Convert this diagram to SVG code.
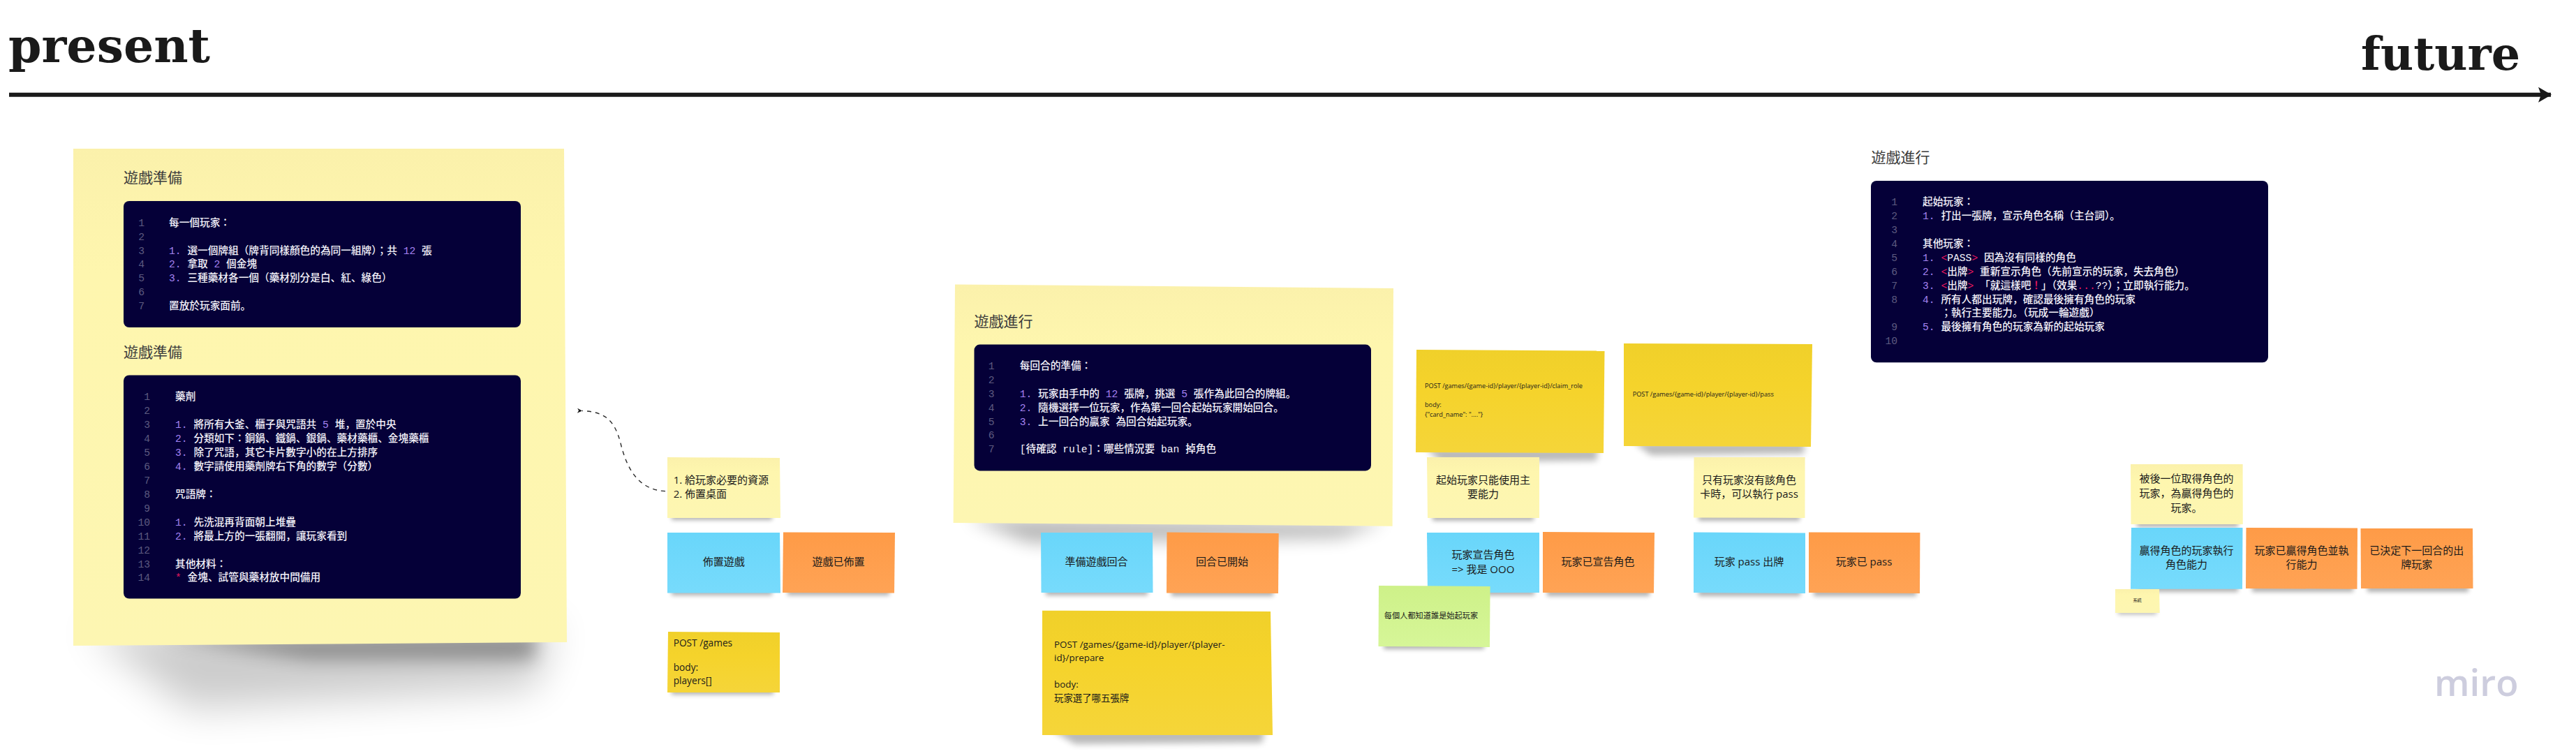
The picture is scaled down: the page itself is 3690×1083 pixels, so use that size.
<svg xmlns="http://www.w3.org/2000/svg" width="3690" height="1083" viewBox="0 0 3690 1083">
<style>
text{font-family:"Open Sans","Noto Sans CJK JP",sans-serif;fill:#1a1a1a}
.title{font-family:"DejaVu Serif",serif;font-weight:700;font-size:68px;fill:#1a1a1a}
.h{font-family:"Roboto","Noto Sans CJK JP",sans-serif;font-size:21px;fill:#3c3c3c}
.box{fill:#050038}
.ln{font-family:"Liberation Mono","Noto Sans CJK JP",monospace;font-size:14.67px;fill:#5e5b80;text-anchor:end}
.c{font-family:"Liberation Mono","Noto Sans CJK JP",monospace;font-size:14.67px;font-weight:500;fill:#f4f3fa}
.p{fill:#a583f2}
.r{fill:#e8185f}
.t{font-size:15px;text-anchor:middle}
.l{font-size:15px}
.y{fill:url(#gy)}.b{fill:url(#gb)}.o{fill:url(#go)}.g{fill:url(#gg)}.v{fill:url(#gv)}
.s{fill:#000;opacity:.3;filter:url(#b4)}
.s2{fill:#000;opacity:.27;filter:url(#b6)}
</style>
<defs>
<filter id="b4" x="-30%" y="-200%" width="160%" height="500%"><feGaussianBlur stdDeviation="3.2"/></filter>
<filter id="b6" x="-30%" y="-200%" width="160%" height="500%"><feGaussianBlur stdDeviation="5"/></filter>
<filter id="b10" x="-30%" y="-100%" width="160%" height="300%"><feGaussianBlur stdDeviation="12"/></filter>
<filter id="b24" x="-30%" y="-100%" width="160%" height="300%"><feGaussianBlur stdDeviation="28"/></filter>
<linearGradient id="gy" x1="0" y1="0" x2="0" y2="1"><stop offset="0" stop-color="#FBF1AB"/><stop offset=".25" stop-color="#FEF6AE"/><stop offset="1" stop-color="#FDF6B2"/></linearGradient>
<linearGradient id="gb" x1="0" y1="0" x2="0" y2="1"><stop offset="0" stop-color="#69D6FA"/><stop offset="1" stop-color="#77DBFC"/></linearGradient>
<linearGradient id="go" x1="0" y1="0" x2="0" y2="1"><stop offset="0" stop-color="#FE9B47"/><stop offset="1" stop-color="#FFA355"/></linearGradient>
<linearGradient id="gg" x1="0" y1="0" x2="0" y2="1"><stop offset="0" stop-color="#F0D02A"/><stop offset=".4" stop-color="#F5D32B"/><stop offset="1" stop-color="#F5D539"/></linearGradient>
<linearGradient id="gv" x1="0" y1="0" x2="0" y2="1"><stop offset="0" stop-color="#CEF189"/><stop offset="1" stop-color="#D6F698"/></linearGradient>
<marker id="ah" markerWidth="10" markerHeight="10" refX="1" refY="5" orient="auto-start-reverse" markerUnits="userSpaceOnUse"><path d="M8 1.5 L1 5 L8 8.5 L6 5 Z" fill="#1a1a1a"/></marker>
<marker id="big" markerWidth="22" markerHeight="24" refX="19" refY="12" orient="auto" markerUnits="userSpaceOnUse"><path d="M1 1 L20 12 L1 23 L5 12 Z" fill="#1a1a1a"/></marker>
</defs>
<rect width="3690" height="1083" fill="#fff"/>

<g id="timeline">
<text class="title" x="12" y="88.5">present</text>
<text class="title" x="3382" y="100" style="font-size:65px">future</text>
</g>

<g id="connectors">
<path d="M13 135.7H3654" fill="none" stroke="#1a1a1a" stroke-width="6" marker-end="url(#big)"/>
<path d="M953 703.6C915 702 898 672 889 635C880 600 865 590 834 588.5" fill="none" stroke="#2a2a2a" stroke-width="1.4" stroke-dasharray="6 6" marker-end="url(#ah)"/>
</g>

<g id="setup-note">
<polygon points="125,900 795,895 765,985 270,1015" fill="#000" opacity=".2" filter="url(#b24)"/>
<polygon points="230,915 770,905 765,945 440,945" fill="#000" opacity=".3" filter="url(#b10)"/>
<polygon class="y" points="105,213 808,213 812,920 105,925"/>
<text class="h" x="177" y="262">遊戲準備</text>
<rect class="box" x="177" y="288" width="569" height="181" rx="8"/>
<text class="ln" x="207" y="324">1</text><text class="ln" x="207" y="344">2</text><text class="ln" x="207" y="364">3</text><text class="ln" x="207" y="383">4</text><text class="ln" x="207" y="403">5</text><text class="ln" x="207" y="423">6</text><text class="ln" x="207" y="443">7</text>
<text class="c" x="242" y="324">每一個玩家：</text>
<text class="c" x="242" y="364"><tspan class="p">1. </tspan>選一個牌組（牌背同樣顏色的為同一組牌）；共 <tspan class="p">12</tspan> 張</text>
<text class="c" x="242" y="383"><tspan class="p">2. </tspan>拿取 <tspan class="p">2</tspan> 個金塊</text>
<text class="c" x="242" y="403"><tspan class="p">3. </tspan>三種藥材各一個（藥材別分是白、紅、綠色）</text>
<text class="c" x="242" y="443">置放於玩家面前。</text>
<text class="h" x="177" y="512">遊戲準備</text>
<rect class="box" x="177" y="537.5" width="569" height="320" rx="8"/>
<text class="ln" x="215" y="573">1</text><text class="ln" x="215" y="593">2</text><text class="ln" x="215" y="613">3</text><text class="ln" x="215" y="633">4</text><text class="ln" x="215" y="653">5</text><text class="ln" x="215" y="673">6</text><text class="ln" x="215" y="693">7</text><text class="ln" x="215" y="712.5">8</text><text class="ln" x="215" y="732.5">9</text><text class="ln" x="215" y="752.5">10</text><text class="ln" x="215" y="772.5">11</text><text class="ln" x="215" y="792.5">12</text><text class="ln" x="215" y="812.5">13</text><text class="ln" x="215" y="832">14</text>
<text class="c" x="251" y="573">藥劑</text>
<text class="c" x="251" y="613"><tspan class="p">1. </tspan>將所有大釜、櫃子與咒語共 <tspan class="p">5</tspan> 堆，置於中央</text>
<text class="c" x="251" y="633"><tspan class="p">2. </tspan>分類如下：銅鍋、鐵鍋、銀鍋、藥材藥櫃、金塊藥櫃</text>
<text class="c" x="251" y="653"><tspan class="p">3. </tspan>除了咒語，其它卡片數字小的在上方排序</text>
<text class="c" x="251" y="673"><tspan class="p">4. </tspan>數字請使用藥劑牌右下角的數字（分數）</text>
<text class="c" x="251" y="712.5">咒語牌：</text>
<text class="c" x="251" y="752.5"><tspan class="p">1. </tspan>先洗混再背面朝上堆疊</text>
<text class="c" x="251" y="772.5"><tspan class="p">2. </tspan>將最上方的一張翻開，讓玩家看到</text>
<text class="c" x="251" y="812.5">其他材料：</text>
<text class="c" x="251" y="832"><tspan class="r">* </tspan>金塊、試管與藥材放中間備用</text>
</g>

<g id="note-resources">
<rect class="s" x="962" y="735" width="144" height="10"/>
<polygon class="y" points="956,655 1117,656 1118,742 956,742"/>
<text class="l" x="964.7" y="693">1. 給玩家必要的資源</text>
<text class="l" x="964.7" y="713">2. 佈置桌面</text>
</g>
<g id="cmd-setup">
<rect class="s" x="962" y="843" width="144" height="10"/>
<polygon class="b" points="956,763 1117,763 1118,849.5 956,849.5"/>
<text class="t" x="1036.7" y="809.5">佈置遊戲</text>
</g>
<g id="evt-setup">
<rect class="s" x="1128" y="843" width="146" height="10"/>
<polygon class="o" points="1122,762.4 1282,763 1281,849.5 1121,849"/>
<text class="t" x="1201" y="809.5">遊戲已佈置</text>
</g>
<g id="api-games">
<rect class="s" x="962" y="986" width="146" height="9"/>
<polygon class="g" points="957,905 1117,906 1117,992 956,992"/>
<text x="964.7" y="925.5" font-size="13.7">POST /games</text>
<text x="964.7" y="961" font-size="13.7">body:</text>
<text x="964.7" y="980" font-size="13.7">players[]</text>
</g>

<g id="round-note">
<polygon points="1385,742 1985,748 1920,770 1475,778" fill="#000" opacity=".28" filter="url(#b10)"/>
<polygon class="y" points="1368,407.4 1996,413 1994.6,753.7 1365.6,749"/>
<text class="h" x="1395.5" y="467.5">遊戲進行</text>
<rect class="box" x="1395.5" y="493.6" width="568.5" height="180.8" rx="8"/>
<text class="ln" x="1424.5" y="528.7">1</text><text class="ln" x="1424.5" y="548.7">2</text><text class="ln" x="1424.5" y="568.7">3</text><text class="ln" x="1424.5" y="588.7">4</text><text class="ln" x="1424.5" y="608.5">5</text><text class="ln" x="1424.5" y="628.3">6</text><text class="ln" x="1424.5" y="647.6">7</text>
<text class="c" x="1460.7" y="528.7">每回合的準備：</text>
<text class="c" x="1460.7" y="568.7"><tspan class="p">1. </tspan>玩家由手中的 <tspan class="p">12</tspan> 張牌，挑選 <tspan class="p">5</tspan> 張作為此回合的牌組。</text>
<text class="c" x="1460.7" y="588.7"><tspan class="p">2. </tspan>隨機選擇一位玩家，作為第一回合起始玩家開始回合。</text>
<text class="c" x="1460.7" y="608.5"><tspan class="p">3. </tspan>上一回合的贏家 為回合始起玩家。</text>
<text class="c" x="1460.7" y="647.6">[待確認 rule]：哪些情況要 ban 掉角色</text>
</g>
<g id="cmd-prepare">
<rect class="s" x="1498" y="843" width="146" height="10"/>
<polygon class="b" points="1491,763 1651,763 1651.5,849 1491.5,849"/>
<text class="t" x="1570.5" y="809.5">準備遊戲回合</text>
</g>
<g id="evt-round">
<rect class="s" x="1678" y="844" width="146" height="10"/>
<polygon class="o" points="1671.5,762.4 1831.7,764 1831,850 1671,849.5"/>
<text class="t" x="1750.5" y="809.5">回合已開始</text>
</g>
<g id="api-prepare">
<polygon class="s2" points="1505,1045 1812,1045 1808,1064 1540,1066"/>
<polygon class="g" points="1493,874.7 1820,876 1823,1053 1493,1053"/>
<text x="1510" y="927.5" font-size="13.4">POST /games/{game-id}/player/{player-</text>
<text x="1510" y="947" font-size="13.4">id}/prepare</text>
<text x="1510" y="985" font-size="13.4">body:</text>
<text x="1510" y="1005" font-size="13.4">玩家選了哪五張牌</text>
</g>

<g id="api-claim">
<polygon class="s2" points="2042,642 2289,642 2287,660 2065,662"/>
<polygon class="g" points="2029,501 2298.5,502.5 2297,649 2028,648"/>
<text x="2041" y="556" font-size="9.2">POST /games/{game-id}/player/{player-id}/claim_role</text>
<text x="2041" y="583" font-size="9.2">body:</text>
<text x="2041" y="597" font-size="9.2">{"card_name": "...."}</text>
</g>
<g id="api-pass">
<polygon class="s2" points="2340,634 2585,634 2584,650 2365,652"/>
<polygon class="g" points="2326,492 2596,493 2594,640 2326,639"/>
<text x="2338.7" y="567.5" font-size="9.2">POST /games/{game-id}/player/{player-id}/pass</text>
</g>
<g id="note-starter">
<rect class="s" x="2052" y="737" width="145" height="9"/>
<polygon class="y" points="2044,655 2205,655 2205,742 2045,742"/>
<text class="t" x="2124.4" y="692.5">起始玩家只能使用主</text>
<text class="t" x="2124.4" y="713">要能力</text>
</g>
<g id="note-pass">
<rect class="s" x="2433" y="737" width="145" height="9"/>
<polygon class="y" points="2426.5,655 2585.6,655 2585.5,742 2426,741.5"/>
<text class="t" x="2505.5" y="692.5">只有玩家沒有該角色</text>
<text class="t" x="2505.5" y="713">卡時，可以執行 pass</text>
</g>
<g id="cmd-claim">
<rect class="s" x="2052" y="843" width="146" height="10"/>
<polygon class="b" points="2044,763 2205,763 2205,849 2045,849"/>
<text class="t" x="2124.4" y="799.5">玩家宣告角色</text>
<text class="t" x="2124.4" y="821">=&gt; 我是 OOO</text>
</g>
<g id="evt-claim">
<rect class="s" x="2216" y="844" width="147" height="10"/>
<polygon class="o" points="2210,762 2370,763 2369,849.5 2210,849"/>
<text class="t" x="2289" y="809.5">玩家已宣告角色</text>
</g>
<g id="note-everyone">
<rect class="s" x="1982" y="920" width="144" height="10"/>
<polygon class="v" points="1975,839 2134.6,840 2134,927 1974.5,926"/>
<text x="2050" y="885.7" font-size="11.2" text-anchor="middle">每個人都知道誰是始起玩家</text>
</g>
<g id="cmd-pass">
<rect class="s" x="2433" y="844" width="146" height="10"/>
<polygon class="b" points="2426,762.5 2586,763.5 2586,850 2426,849"/>
<text class="t" x="2505.5" y="809.5">玩家 pass 出牌</text>
</g>
<g id="evt-pass">
<rect class="s" x="2598" y="844" width="147" height="10"/>
<polygon class="o" points="2591,762.5 2750.4,763 2750,850 2591,849"/>
<text class="t" x="2670" y="809.5">玩家已 pass</text>
</g>

<g id="code-round">
<text class="h" x="2680.4" y="232.5">遊戲進行</text>
<rect class="box" x="2680" y="259" width="569" height="260.3" rx="8"/>
<text class="ln" x="2718" y="294">1</text><text class="ln" x="2718" y="314">2</text><text class="ln" x="2718" y="334">3</text><text class="ln" x="2718" y="354">4</text><text class="ln" x="2718" y="374">5</text><text class="ln" x="2718" y="394">6</text><text class="ln" x="2718" y="414">7</text><text class="ln" x="2718" y="434">8</text><text class="ln" x="2718" y="472.7">9</text><text class="ln" x="2718" y="492.7">10</text>
<text class="c" x="2754" y="294">起始玩家：</text>
<text class="c" x="2754" y="314"><tspan class="p">1. </tspan>打出一張牌，宣示角色名稱（主台詞）。</text>
<text class="c" x="2754" y="354">其他玩家：</text>
<text class="c" x="2754" y="374"><tspan class="p">1. </tspan><tspan class="r">&lt;</tspan>PASS<tspan class="r">&gt;</tspan> 因為沒有同樣的角色</text>
<text class="c" x="2754" y="394"><tspan class="p">2. </tspan><tspan class="r">&lt;</tspan>出牌<tspan class="r">&gt;</tspan> 重新宣示角色（先前宣示的玩家，失去角色）</text>
<text class="c" x="2754" y="414"><tspan class="p">3. </tspan><tspan class="r">&lt;</tspan>出牌<tspan class="r">&gt;</tspan> 「就這樣吧<tspan class="r">！</tspan>」（效果<tspan class="r">...</tspan>??）；立即執行能力。</text>
<text class="c" x="2754" y="434"><tspan class="p">4. </tspan>所有人都出玩牌，確認最後擁有角色的玩家</text>
<text class="c" x="2780.4" y="452.7">；執行主要能力。（玩成一輪遊戲）</text>
<text class="c" x="2754" y="472.7"><tspan class="p">5. </tspan>最後擁有角色的玩家為新的起始玩家</text>
</g>

<g id="note-winner">
<rect class="s" x="3061" y="746" width="145" height="9"/>
<polygon class="y" points="3052,665 3212.6,665 3212.8,751 3052.5,751"/>
<text class="t" x="3132" y="691.3">被後一位取得角色的</text>
<text class="t" x="3132" y="712">玩家，為贏得角色的</text>
<text class="t" x="3132" y="732.6">玩家。</text>
</g>
<g id="cmd-winner">
<rect class="s" x="3062" y="838" width="144" height="10"/>
<polygon class="b" points="3053,756 3212.5,756 3212,843.7 3052,843.7"/>
<text class="t" x="3132" y="793.6">贏得角色的玩家執行</text>
<text class="t" x="3132" y="813.6">角色能力</text>
</g>
<g id="evt-winner">
<rect class="s" x="3226" y="838" width="145" height="10"/>
<polygon class="o" points="3217.5,756 3377,756.5 3376.5,843.7 3217,843"/>
<text class="t" x="3297" y="793.6">玩家已贏得角色並執</text>
<text class="t" x="3297" y="813.6">行能力</text>
</g>
<g id="evt-next">
<rect class="s" x="3391" y="838" width="145" height="10"/>
<polygon class="o" points="3381.5,757 3542,757 3542.5,843 3382,843"/>
<text class="t" x="3461.7" y="793.6">已決定下一回合的出</text>
<text class="t" x="3461.7" y="813.6">牌玩家</text>
</g>
<g id="note-system">
<rect x="3034" y="874" width="55" height="6" fill="#000" opacity=".3" style="filter:url(#b4)"/>
<polygon class="y" points="3030,844 3093,844 3093.7,878 3030,878"/>
<text x="3061.6" y="862" font-size="6.2" text-anchor="middle">系統</text>
</g>
<g id="logo">
<text x="3487" y="996.7" font-size="53" font-weight="600" style="fill:#cdcdde">miro</text>
</g>
</svg>
